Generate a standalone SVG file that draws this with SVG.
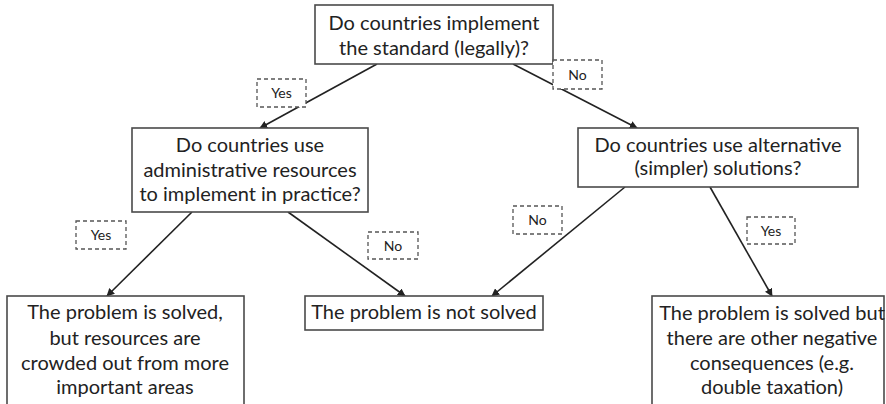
<svg xmlns="http://www.w3.org/2000/svg" width="886" height="404" viewBox="0 0 886 404">
<defs>
<style>
.box{fill:#fff;stroke:#4a4a4a;stroke-width:1.6}
.lbl{fill:#fff;stroke:#555;stroke-width:1.3;stroke-dasharray:4 3}
.t{font-family:Lato,"Liberation Sans",sans-serif;font-size:20px;fill:#222;text-anchor:middle}
.s{font-family:Lato,"Liberation Sans",sans-serif;font-size:14px;fill:#222;text-anchor:middle}
.c{stroke:#222;stroke-width:1.6;fill:none;marker-end:url(#ah)}
</style>
<marker id="ah" viewBox="0 0 10 10" refX="9" refY="5" markerWidth="5" markerHeight="5" orient="auto" markerUnits="strokeWidth">
<path d="M0,0 L10,5 L0,10 z" fill="#222"/>
</marker>
</defs>
<rect width="886" height="404" fill="#fff"/>
<g id="connectors">
<line class="c" x1="377" y1="64" x2="260" y2="128"/>
<line class="c" x1="513" y1="64" x2="637" y2="128"/>
<line class="c" x1="192" y1="212" x2="107" y2="296"/>
<line class="c" x1="288" y1="212" x2="405" y2="296"/>
<line class="c" x1="625" y1="187" x2="492" y2="296"/>
<line class="c" x1="710" y1="187" x2="772" y2="296"/>
</g>
<g id="q1">
<rect class="box" x="315" y="5" width="238" height="59"/>
<text class="t" x="434" y="30">Do countries implement</text>
<text class="t" x="434" y="55">the standard (legally)?</text>
</g>
<g id="q2">
<rect class="box" x="132" y="128" width="236" height="84"/>
<text class="t" x="250" y="152">Do countries use</text>
<text class="t" x="250" y="177">administrative resources</text>
<text class="t" x="250" y="201">to implement in practice?</text>
</g>
<g id="q3">
<rect class="box" x="578" y="128" width="280" height="59"/>
<text class="t" x="718" y="152">Do countries use alternative</text>
<text class="t" x="718" y="175">(simpler) solutions?</text>
</g>
<g id="r1">
<rect class="box" x="7" y="296" width="237" height="120"/>
<text class="t" x="125" y="319">The problem is solved,</text>
<text class="t" x="125" y="345">but resources are</text>
<text class="t" x="125" y="370">crowded out from more</text>
<text class="t" x="125" y="394">important areas</text>
</g>
<g id="r2">
<rect class="box" x="305" y="296" width="238" height="34"/>
<text class="t" x="424" y="319">The problem is not solved</text>
</g>
<g id="r3">
<rect class="box" x="652" y="296" width="232" height="120"/>
<text class="t" x="772" y="320">The problem is solved but</text>
<text class="t" x="772" y="345">there are other negative</text>
<text class="t" x="772" y="370">consequences (e.g.</text>
<text class="t" x="772" y="394">double taxation)</text>
</g>
<g id="l1"><rect class="lbl" x="257" y="79" width="49" height="28"/><text class="s" x="281.5" y="98">Yes</text></g>
<g id="l2"><rect class="lbl" x="553" y="60" width="49" height="29"/><text class="s" x="577.5" y="80">No</text></g>
<g id="l3"><rect class="lbl" x="76" y="221" width="50" height="28"/><text class="s" x="101" y="240">Yes</text></g>
<g id="l4"><rect class="lbl" x="368" y="232" width="50" height="27"/><text class="s" x="393" y="251">No</text></g>
<g id="l5"><rect class="lbl" x="513" y="206" width="49" height="28"/><text class="s" x="537.5" y="225">No</text></g>
<g id="l6"><rect class="lbl" x="747" y="217" width="48" height="27"/><text class="s" x="771" y="236">Yes</text></g>
</svg>
